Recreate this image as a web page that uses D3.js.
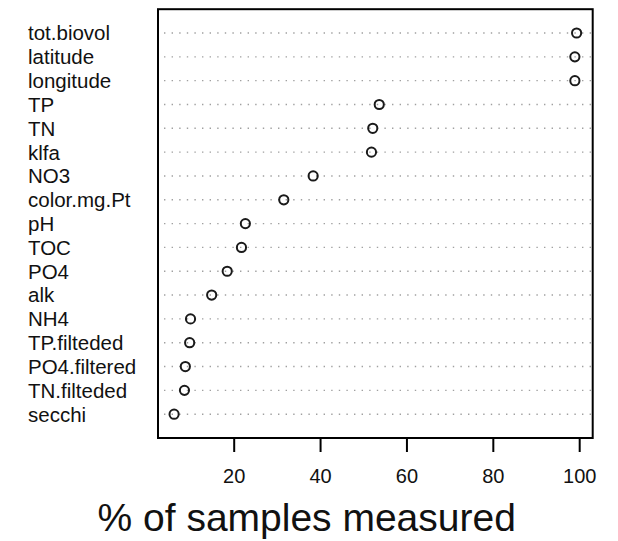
<!DOCTYPE html>
<html>
<head>
<meta charset="utf-8">
<script src="https://cdn.jsdelivr.net/npm/d3@7"></script>
<style>
  html, body { margin: 0; padding: 0; background: #fff; }
  svg text { font-family: "Liberation Sans", Arial, sans-serif; fill: #111; }
</style>
</head>
<body>
<svg id="chart" width="618" height="541"></svg>
<script>
// Variables, top to bottom, with the share of samples in which each was measured
const variables = ["tot.biovol", "latitude", "longitude", "TP", "TN", "klfa", "NO3",
  "color.mg.Pt", "pH", "TOC", "PO4", "alk", "NH4", "TP.filteded", "PO4.filtered",
  "TN.filteded", "secchi"];
const percentMeasured = [99.4, 99.0, 99.0, 53.7, 52.2, 51.9, 38.4,
  31.6, 22.7, 21.8, 18.5, 14.9, 10.0, 9.8, 8.8,
  8.6, 6.2];
const xTicks = [20, 40, 60, 80, 100];
const xTitle = "% of samples measured";

const svg = d3.select("#chart");
const box = { left: 158, right: 592.7, top: 9.2, bottom: 438 };

// x range padded by 4% on each side of the data
const lo = d3.min(percentMeasured), hi = d3.max(percentMeasured);
const pad = (hi - lo) * 0.04;
const x = d3.scaleLinear().domain([lo - pad, hi + pad]).range([box.left, box.right]);
// rows sit at 1..n, top row highest
const n = variables.length;
const y = d3.scaleLinear().domain([0, n + 1]).range([box.bottom, box.top]);
const rowY = i => y(n - i);

// dotted guide lines
svg.append("g").selectAll("line").data(variables).join("line")
  .attr("x1", box.left + 6).attr("x2", box.right)
  .attr("y1", (d, i) => rowY(i)).attr("y2", (d, i) => rowY(i))
  .attr("stroke", "#a0a0a0").attr("stroke-width", 1.4)
  .attr("stroke-dasharray", "1.4,6.2");

// points
svg.append("g").selectAll("circle").data(percentMeasured).join("circle")
  .attr("cx", d => x(d)).attr("cy", (d, i) => rowY(i)).attr("r", 4.6)
  .attr("fill", "none").attr("stroke", "#1a1a1a").attr("stroke-width", 2);

// row labels
svg.append("g").selectAll("text").data(variables).join("text")
  .attr("x", 28).attr("y", (d, i) => rowY(i))
  .attr("dy", "0.36em").attr("font-size", "20.5px")
  .text(d => d);

// plot frame
svg.append("rect")
  .attr("x", box.left).attr("y", box.top)
  .attr("width", box.right - box.left).attr("height", box.bottom - box.top)
  .attr("fill", "none").attr("stroke", "#000").attr("stroke-width", 2);

// bottom axis
const axis = d3.axisBottom(x).tickValues(xTicks).tickSize(14).tickPadding(17).tickSizeOuter(0);
const gx = svg.append("g").attr("transform", `translate(0,${box.bottom})`).call(axis);
gx.select(".domain").remove();
gx.selectAll(".tick line").attr("stroke", "#000").attr("stroke-width", 2);
gx.selectAll(".tick text").attr("font-size", "20px").attr("fill", "#111")
  .attr("font-family", "'Liberation Sans', Arial, sans-serif");

// axis title
svg.append("text").attr("x", 306.7).attr("y", 531)
  .attr("text-anchor", "middle").attr("font-size", "39px").attr("fill", "#000")
  .text(xTitle);
</script>
</body>
</html>
